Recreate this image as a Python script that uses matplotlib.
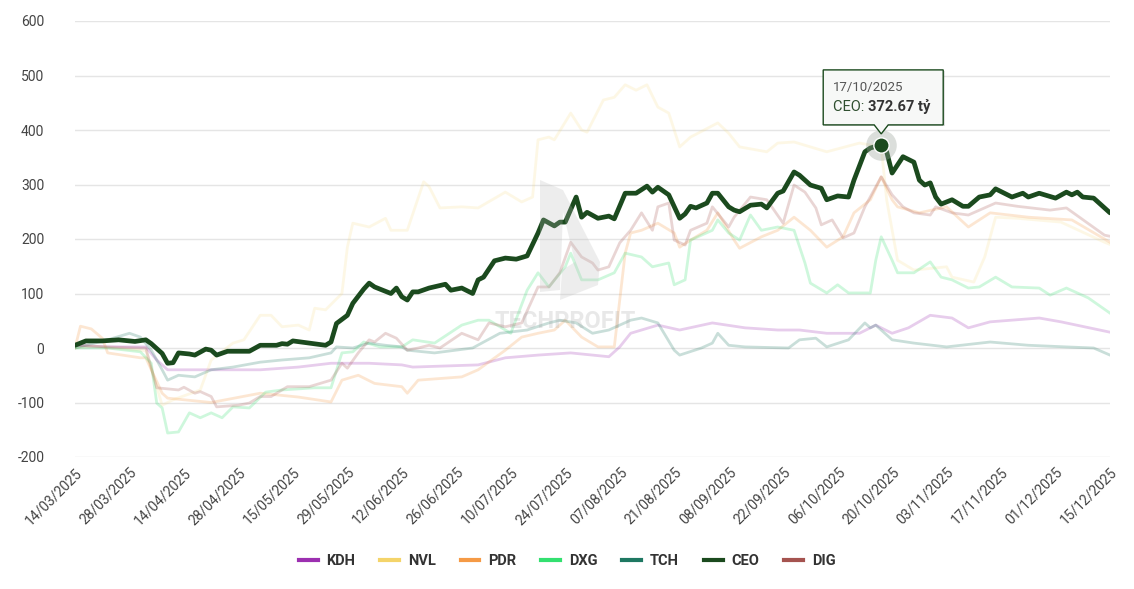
import matplotlib
matplotlib.use('Agg')
import matplotlib.pyplot as plt
from matplotlib.lines import Line2D
from matplotlib.patches import Polygon, Rectangle

plt.rcParams['font.family'] = ['Roboto', 'DejaVu Sans']

W, H = 1134, 589

# x axis is the trading-session index, one label every 10 sessions
tick_days = list(range(0, 191, 10))
tick_labels = ['14/03/2025', '28/03/2025', '14/04/2025', '28/04/2025', '15/05/2025',
               '29/05/2025', '12/06/2025', '26/06/2025', '10/07/2025', '24/07/2025',
               '07/08/2025', '21/08/2025', '08/09/2025', '22/09/2025', '06/10/2025',
               '20/10/2025', '03/11/2025', '17/11/2025', '01/12/2025', '15/12/2025']
y_ticks = [-200, -100, 0, 100, 200, 300, 400, 500, 600]

# (session, value in ty dong)
kdh = [(0, 5), (6, 2), (13, 2), (15, -22), (17, -40), (25, -40), (34, -40), (41, -35),
       (47, -28), (54, -28), (60, -31), (62, -35), (74, -31), (79, -18), (85, -13),
       (91, -9), (98, -16), (100, 2), (102, 27), (107, 42), (111, 33), (117, 46),
       (123, 37), (129, 33), (133, 33), (138, 27), (144, 27), (147, 42), (150, 27),
       (153, 37), (157, 60), (161, 55), (164, 37), (168, 48), (177, 55), (181, 48),
       (190, 29)]

nvl = [(0, 0), (3, 3), (13, -5), (16, -105), (18, -95), (23, -77), (25, -22), (29, 9),
       (31, 15), (34, 60), (36, 60), (38, 39), (41, 42), (43, 33), (44, 73), (46, 70),
       (49, 100), (50, 185), (51, 229), (54, 222), (57, 238), (58, 216), (61, 216),
       (64, 305), (65, 296), (67, 257), (71, 259), (74, 257), (79, 286), (82, 268),
       (84, 277), (85, 382), (87, 387), (88, 382), (91, 431), (93, 400), (94, 396),
       (97, 455), (99, 460), (101, 483), (103, 473), (105, 483), (107, 442), (109, 431),
       (111, 369), (113, 387), (118, 413), (120, 394), (122, 369), (127, 360), (129, 376),
       (132, 378), (138, 360), (144, 376), (148, 369), (149, 272), (151, 161), (154, 143),
       (160, 149), (161, 130), (165, 121), (167, 167), (169, 240), (173, 238), (181, 231),
       (189, 194), (190, 190)]

pdr = [(0, 0), (1, 40), (3, 35), (5, 18), (6, -9), (12, -18), (13, -18), (16, -83),
       (17, -92), (20, -95), (25, -100), (34, -83), (41, -90), (47, -99), (49, -59),
       (52, -50), (55, -65), (60, -71), (61, -83), (63, -59), (71, -53), (74, -40),
       (79, -4), (82, 20), (85, 27), (88, 33), (90, 51), (93, 20), (96, 2), (99, 2),
       (101, 174), (102, 211), (104, 216), (107, 229), (110, 211), (111, 185), (113, 198),
       (116, 216), (118, 248), (121, 198), (122, 183), (126, 204), (129, 216), (132, 240),
       (135, 216), (138, 185), (141, 204), (143, 248), (146, 272), (148, 314), (150, 272),
       (151, 259), (155, 248), (160, 259), (164, 222), (168, 248), (175, 240), (183, 235),
       (190, 194)]

dxg = [(0, 0), (6, 0), (12, -7), (14, -28), (15, -101), (16, -110), (17, -156), (19, -154),
       (21, -119), (23, -128), (25, -119), (27, -128), (29, -108), (32, -110), (35, -81),
       (38, -77), (44, -73), (47, -73), (49, -9), (51, -7), (53, 11), (56, 2), (60, 2),
       (62, 15), (66, 9), (71, 42), (74, 51), (76, 51), (80, 27), (83, 106), (85, 138),
       (87, 112), (90, 149), (91, 174), (93, 125), (96, 125), (99, 138), (101, 174),
       (104, 167), (106, 149), (109, 156), (110, 116), (112, 125), (113, 198), (117, 216),
       (118, 235), (120, 211), (122, 198), (124, 244), (126, 216), (129, 222), (132, 216),
       (134, 156), (135, 119), (138, 101), (140, 116), (142, 101), (146, 101), (147, 161),
       (148, 204), (150, 161), (151, 138), (154, 138), (157, 158), (159, 130), (161, 125),
       (164, 110), (166, 112), (169, 130), (172, 112), (177, 110), (179, 97), (182, 110),
       (186, 92), (190, 64)]

tch = [(0, 0), (6, 15), (10, 27), (12, 20), (14, -4), (16, -40), (17, -59), (19, -50),
       (22, -53), (25, -40), (29, -35), (34, -26), (38, -22), (43, -18), (47, -9), (48, 2),
       (51, 0), (54, 9), (57, 5), (60, 2), (61, -4), (66, -9), (73, 0), (78, 27), (83, 33),
       (87, 46), (89, 51), (92, 46), (95, 27), (98, 33), (102, 51), (104, 55), (107, 46),
       (110, -4), (111, -13), (115, 0), (117, 9), (118, 27), (120, 5), (123, 2), (131, 0),
       (133, 15), (136, 18), (138, 2), (142, 15), (145, 46), (146, 37), (147, 42),
       (150, 15), (154, 9), (160, 2), (168, 11), (175, 5), (182, 2), (187, 0), (190, -13)]

ceo = [(0, 5), (2, 13), (5, 13), (8, 15), (11, 12), (13, 15), (14, 8), (16, -10),
       (17, -28), (18, -27), (19, -9), (21, -11), (22, -13), (24, -2), (25, -4), (26, -13),
       (28, -6), (32, -6), (34, 5), (37, 5), (38, 8), (39, 7), (40, 13), (46, 5), (47, 11),
       (48, 45), (50, 60), (51, 82), (53, 108), (54, 119), (55, 112), (58, 100), (59, 110),
       (60, 94), (61, 88), (62, 103), (63, 103), (65, 110), (68, 117), (69, 106), (71, 110),
       (73, 100), (74, 125), (75, 130), (77, 160), (79, 165), (81, 163), (83, 169),
       (85, 211), (86, 235), (88, 224), (89, 231), (90, 231), (92, 277), (93, 240),
       (94, 249), (96, 238), (98, 242), (99, 237), (101, 284), (103, 284), (105, 297),
       (106, 286), (107, 295), (109, 281), (111, 238), (112, 246), (113, 260), (114, 257),
       (116, 266), (117, 284), (118, 284), (120, 259), (121, 253), (122, 250), (124, 262),
       (126, 264), (127, 257), (129, 284), (130, 288), (132, 323), (133, 317), (135, 299),
       (137, 293), (138, 272), (140, 279), (142, 277), (143, 308), (145, 360), (146, 367),
       (148, 372.67), (149, 360), (150, 321), (152, 351), (154, 341), (155, 308),
       (156, 299), (157, 303), (158, 277), (159, 264), (161, 272), (163, 260), (164, 260),
       (166, 277), (168, 281), (169, 292), (172, 277), (174, 284), (175, 277), (177, 284),
       (180, 275), (182, 286), (183, 281), (184, 286), (185, 277), (187, 275), (189, 257),
       (190, 248)]

dig = [(0, 5), (6, 2), (12, 0), (13, 0), (15, -73), (19, -77), (20, -72), (22, -83),
       (23, -80), (25, -89), (26, -108), (30, -105), (32, -101), (34, -89), (36, -89),
       (39, -71), (43, -71), (47, -59), (49, -28), (50, -37), (52, -9), (54, 15), (55, 11),
       (57, 27), (59, 18), (61, -4), (63, 0), (65, 5), (67, 0), (71, 27), (74, 15),
       (76, 46), (79, 39), (82, 46), (85, 112), (87, 112), (89, 138), (91, 194), (93, 167),
       (95, 156), (96, 143), (98, 149), (100, 193), (102, 216), (104, 248), (106, 216),
       (107, 259), (109, 266), (110, 198), (112, 189), (113, 216), (116, 229), (117, 259),
       (120, 222), (121, 240), (124, 277), (127, 272), (130, 229), (132, 299), (134, 286),
       (136, 257), (137, 226), (139, 235), (141, 202), (143, 211), (145, 259), (148, 314),
       (150, 281), (152, 259), (154, 248), (157, 244), (158, 259), (161, 248), (164, 244),
       (169, 266), (173, 260), (179, 253), (182, 257), (189, 207), (190, 205)]

tooltip_date = '17/10/2025'
tooltip_day = 148  # session of the hovered CEO point

series = [('KDH', kdh, '#9c2fb0'), ('NVL', nvl, '#f4d46a'), ('PDR', pdr, '#f59a45'),
          ('DXG', dxg, '#33e070'), ('TCH', tch, '#1e7862'), ('CEO', ceo, '#1b4a1e'),
          ('DIG', dig, '#a5534f')]
# how much each non-selected line is faded
fade = {'KDH': 0.24, 'NVL': 0.17, 'PDR': 0.24, 'DXG': 0.24, 'TCH': 0.24, 'DIG': 0.24}

fig = plt.figure(figsize=(W / 100, H / 100), dpi=100)
ax = fig.add_axes([75 / W, 1 - 457 / H, (1110 - 75) / W, (457 - 21) / H])

# faded lines first, CEO on top
for name, pts, col in series:
    if name == 'CEO':
        continue
    d, v = zip(*pts)
    ax.plot(d, v, color=col, alpha=fade[name], lw=2, solid_joinstyle='round')
d, v = zip(*ceo)
ax.plot(d, v, color='#1b4a1e', lw=3.4, solid_joinstyle='round', solid_capstyle='round', zorder=5)

ax.set_xlim(0, 190)
ax.set_ylim(-200, 600)
ax.set_yticks(y_ticks)
ax.set_yticklabels([str(t) for t in y_ticks])
ax.set_xticks(tick_days)
ax.set_xticklabels(tick_labels, rotation=45, ha='right', rotation_mode='anchor')
ax.tick_params(axis='both', length=0, labelsize=10, colors='#444444')
ax.tick_params(axis='y', pad=22)
ax.tick_params(axis='x', pad=6)
ax.grid(axis='y', color='#e5e5e5', lw=1)
ax.set_axisbelow(True)
for s in ax.spines.values():
    s.set_visible(False)


def fpx(x, y):
    # image pixel (from top) -> figure fraction
    return (x / W, 1 - y / H)


def fig_pt(x, y):
    # display pixel (from bottom) -> figure fraction
    return (x / W, y / H)


# watermark
logo = [fpx(540, 180), fpx(563, 190), fpx(600, 262), fpx(598, 285), fpx(560, 300),
        fpx(562, 270), fpx(575, 262), fpx(563, 212), fpx(560, 290), fpx(540, 292)]
fig.patches.append(Polygon(logo, closed=True, transform=fig.transFigure,
                           facecolor='#bbbbbb', alpha=0.25, edgecolor='none', zorder=1))
fig.text(565 / W, 1 - 321 / H, 'TECHPROFIT', ha='center', va='center', fontsize=17,
         fontweight='bold', color='#999999', alpha=0.22, zorder=1)

# tooltip at the CEO point
ceo_days = [p[0] for p in ceo]
tx, tv = ceo[ceo_days.index(tooltip_day)]
px, py = ax.transData.transform((tx, tv))
ax.plot([tx], [tv], 'o', ms=22, color='#9aa39a', alpha=0.35, zorder=6, mec='none')
ax.plot([tx], [tv], 'o', ms=11, color='#1b4a1e', mec='white', mew=1, zorder=7)

bl, br, bb, bt = px - 58, px + 62, py + 20, py + 75
shadow = Rectangle(fig_pt(bl + 1.5, bb - 1.5), (br - bl) / W, (bt - bb) / H,
                   transform=fig.transFigure, facecolor='#000000', alpha=0.12,
                   edgecolor='none', zorder=8)
fig.patches.append(shadow)
box = Polygon([fig_pt(bl, bb), fig_pt(px - 7, bb), fig_pt(px, bb - 9), fig_pt(px + 7, bb),
               fig_pt(br, bb), fig_pt(br, bt), fig_pt(bl, bt)], closed=True,
              transform=fig.transFigure, facecolor='#f7f8f7', edgecolor='#1b4a1e',
              lw=1, zorder=9)
fig.patches.append(box)
fig.text((bl + 10) / W, (bt - 18) / H, tooltip_date, fontsize=9.5, color='#555555',
         va='center', zorder=10)
t1 = fig.text((bl + 10) / W, (bt - 37) / H, 'CEO: ', fontsize=10.5, color='#2f4f2f',
              va='center', zorder=10)
fig.canvas.draw()
x1 = t1.get_window_extent().x1
fig.text(x1 / W, (bt - 37) / H, f'{tv:.2f} tỷ', fontsize=10.5, fontweight='bold',
         color='#333333', va='center', zorder=10)

# legend
handles = [Line2D([0], [0], color=col, lw=3) for _, _, col in series]
fig.legend(handles, [n for n, _, _ in series], loc='center', bbox_to_anchor=(0.5, 1 - 561 / H),
           ncol=7, frameon=False, handlelength=1.3, handletextpad=0.6, columnspacing=1.7,
           prop={'size': 10.5, 'weight': 'bold'}, labelcolor='#333333')

fig.savefig('out.png', dpi=100, facecolor='white')
